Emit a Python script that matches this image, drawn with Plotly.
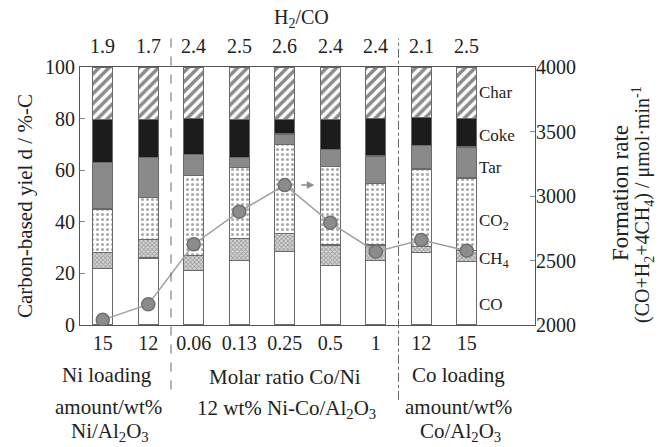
import plotly.graph_objects as go

categories = ["15", "12", "0.06", "0.13", "0.25", "0.5", "1", "12", "15"]
h2_co = ["1.9", "1.7", "2.4", "2.5", "2.6", "2.4", "2.4", "2.1", "2.5"]
co = [22, 26, 21, 25, 28.5, 23, 25, 28, 24.5]
ch4 = [6, 7, 6, 8.5, 7, 8, 6, 2.5, 4.5]
co2 = [17, 16.5, 31, 27.5, 34.5, 30.5, 24, 30, 28]
tar = [18, 15.5, 8, 4, 4, 6.5, 10.5, 9, 12]
coke = [16.5, 14.5, 14, 14.5, 5.5, 11.5, 14.5, 11, 11]
char = [20.5, 20.5, 20, 20.5, 20.5, 20.5, 20, 19.5, 20]
formation_rate = [2040, 2160, 2626, 2878, 3085, 2793, 2568, 2659, 2576]

FONT = "Liberation Serif, Times New Roman, serif"
TXT = "#222222"
EDGE = "#6a6a6a"
xs = list(range(len(categories)))

fig = go.Figure()

def add_bar(vals, color, pattern=None):
    marker = dict(color=color, line=dict(color=EDGE, width=1.2))
    if pattern:
        marker["pattern"] = pattern
    fig.add_trace(go.Bar(x=xs, y=vals, width=0.44, marker=marker, showlegend=False))

add_bar(co, "white")
add_bar(ch4, "white", dict(shape="x", fgcolor="#555555", bgcolor="#dddddd", size=3, solidity=0.5))
add_bar(co2, "white", dict(shape=".", fgcolor="#555555", bgcolor="white", size=5, solidity=0.3))
add_bar(tar, "#8a8a8a")
add_bar(coke, "#1c1c1c")
add_bar(char, "white", dict(shape="/", fgcolor="#151515", bgcolor="white", size=7, solidity=0.5))

fig.add_trace(go.Scatter(
    x=xs, y=formation_rate, yaxis="y2", mode="lines+markers",
    line=dict(color="#a0a0a0", width=1.5),
    marker=dict(size=13, color="#8c8c8c", line=dict(color="#6f6f6f", width=1.5)),
    showlegend=False))

fig.update_layout(
    width=659, height=447,
    margin=dict(l=80, r=124, t=67, b=122),
    barmode="stack",
    plot_bgcolor="white", paper_bgcolor="white",
    font=dict(family=FONT, size=20, color=TXT),
    xaxis=dict(range=[-0.5, 9.5], tickvals=xs, ticktext=categories,
               showline=True, mirror=True, linecolor="#555555", linewidth=1.2,
               ticks="", showgrid=False, zeroline=False,
               tickfont=dict(size=20)),
    yaxis=dict(range=[0, 100], dtick=20, showline=True, mirror=True,
               linecolor="#555555", linewidth=1.2, ticks="inside", ticklen=5,
               tickcolor="#888888", showgrid=False, zeroline=False,
               tickfont=dict(size=20)),
    yaxis2=dict(range=[2000, 4000], dtick=500, overlaying="y", side="right",
                ticks="inside", ticklen=5, tickcolor="#888888", showgrid=False,
                zeroline=False, showline=False, tickfont=dict(size=20)),
)

# dividers
fig.add_shape(type="line", xref="x", yref="paper", x0=1.5, x1=1.5, y0=-0.25, y1=1.11,
              line=dict(color="#666666", width=1, dash="dash"))
fig.add_shape(type="line", xref="x", yref="paper", x0=6.5, x1=6.5, y0=-0.29, y1=1.11,
              line=dict(color="#666666", width=1, dash="dashdot"))

def ann(text, x, y, xref="paper", yref="paper", size=20, xanchor="center", **kw):
    fig.add_annotation(text=text, x=x, y=y, xref=xref, yref=yref, showarrow=False,
                       xanchor=xanchor, yanchor="middle",
                       font=dict(family=FONT, size=size, color=TXT), **kw)

def px(xp):
    return (xp - 80) / 455.0
def py(yp):
    return (325 - yp) / 258.0

# H2/CO
ann("H<sub>2</sub>/CO", px(301), py(19), size=20)
for i, v in enumerate(h2_co):
    ann(v, i, py(46), xref="x", size=20)

# component labels
labels = [("Char", 90.3), ("Coke", 73.6), ("Tar", 61.2), ("CO<sub>2</sub>", 39.9),
          ("CH<sub>4</sub>", 25.2), ("CO", 7.8)]
for t, yv in labels:
    ann(t, 8.22, yv, xref="x", yref="y", size=17, xanchor="left")

# arrow
fig.add_annotation(x=4.65, y=3085, ax=4.33, ay=3085, xref="x", yref="y2",
                   axref="x", ayref="y2", showarrow=True, arrowhead=2,
                   arrowsize=1, arrowwidth=1.5, arrowcolor="#8c8c8c", text="")

# bottom group labels
ann("Ni loading", px(107), py(375), size=21)
ann("amount/wt%", px(108), py(407), size=21)
ann("Ni/Al<sub>2</sub>O<sub>3</sub>", px(110), py(432), size=21)
ann("Molar ratio Co/Ni", px(285), py(377), size=21)
ann("12 wt% Ni-Co/Al<sub>2</sub>O<sub>3</sub>", px(286), py(409), size=21)
ann("Co loading", px(458), py(375), size=21)
ann("amount/wt%", px(458), py(407), size=21)
ann("Co/Al<sub>2</sub>O<sub>3</sub>", px(460), py(432), size=21)

# axis titles
ann("Carbon-based yiel d / %-C", px(25), py(206), size=21, textangle=-90)
ann("Formation rate", px(620), py(193), size=23, textangle=-90)
ann("(CO+H<sub>2</sub>+4CH<sub>4</sub>) / μmol·min<sup>-1</sup>", px(643), py(205), size=20, textangle=-90)

fig.write_html("out.html")
